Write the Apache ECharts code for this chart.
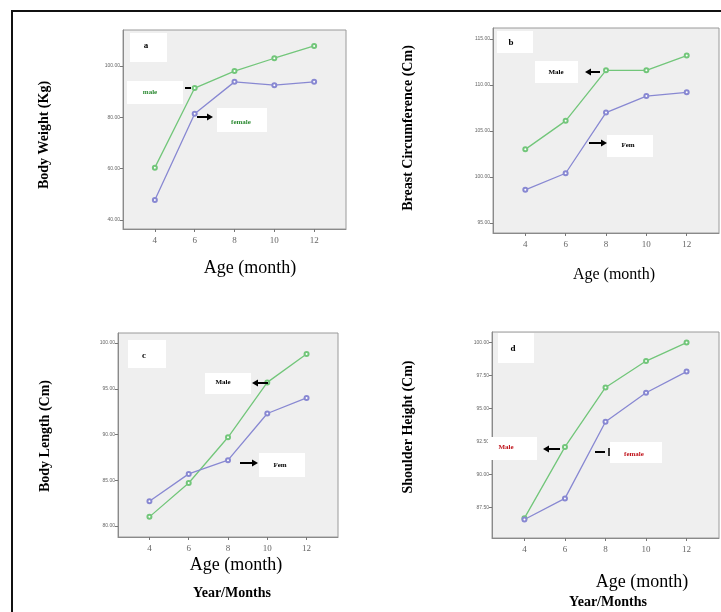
<!DOCTYPE html>
<html>
<head>
<meta charset="utf-8">
<script src="https://cdn.jsdelivr.net/npm/echarts@6/dist/echarts.min.js"></script>
<style>
html,body{margin:0;padding:0;background:#fff;}
#chart{width:721px;height:612px;}
</style>
</head>
<body>
<div id="chart"></div>
<script>
// ---- data ----
const ages = [4, 6, 8, 10, 12];
const ageTicks = [4, 6, 8, 10, 12];

const weightMale = [60.4, 91.4, 98.0, 103.0, 107.8];
const weightFemale = [47.8, 81.4, 93.8, 92.5, 93.8];
const weightTicks = [40, 60, 80, 100];

const breastMale = [103.0, 106.1, 111.6, 111.6, 113.2];
const breastFemale = [98.6, 100.4, 107.0, 108.8, 109.2];
const breastTicks = [95, 100, 105, 110, 115];

const lengthMale = [81.0, 84.7, 89.7, 95.7, 98.8];
const lengthFemale = [82.7, 85.7, 87.2, 92.3, 94.0];
const lengthTicks = [80, 85, 90, 95, 100];

const shoulderMale = [86.7, 92.1, 96.6, 98.6, 100.0];
const shoulderFemale = [86.6, 88.2, 94.0, 96.2, 97.8];
const shoulderTicks = [87.5, 90, 92.5, 95, 97.5, 100];

// ---- styles ----
const GREEN = '#72c67a';
const BLUE = '#8888d2';
const SERIF = '"Liberation Serif", "DejaVu Serif", serif';

const grids = [
  {left: 123, top: 30, width: 223, height: 199},
  {left: 493, top: 28, width: 226, height: 205},
  {left: 118, top: 333, width: 220, height: 204},
  {left: 492, top: 332, width: 227, height: 206}
];
const yRanges = [[36.5, 114], [93.9, 116.2], [78.8, 101.1], [85.2, 100.8]];
const yTickSets = [weightTicks, breastTicks, lengthTicks, shoulderTicks];
const maleSets = [weightMale, breastMale, lengthMale, shoulderMale];
const femaleSets = [weightFemale, breastFemale, lengthFemale, shoulderFemale];

function pairs(arr) { return ages.map((a, i) => [a, arr[i]]); }

const option = {
  animation: false,
  backgroundColor: '#ffffff',
  grid: grids.map(g => Object.assign({
    show: true, backgroundColor: '#efefef', borderColor: '#9a9a9a', borderWidth: 1
  }, g)),
  xAxis: grids.map((g, i) => ({
    type: 'value', gridIndex: i, min: 2.4, max: 13.6,
    splitLine: {show: false},
    axisLine: {show: true, lineStyle: {color: '#8a8a8a'}},
    axisTick: {show: true, length: 3, lineStyle: {color: '#777'}, customValues: ageTicks},
    axisLabel: {customValues: ageTicks, fontSize: 9, color: '#666', margin: 7, fontFamily: SERIF}
  })),
  yAxis: grids.map((g, i) => ({
    type: 'value', gridIndex: i, min: yRanges[i][0], max: yRanges[i][1],
    splitLine: {show: false},
    axisLine: {show: true, lineStyle: {color: '#8a8a8a'}},
    axisTick: {show: true, length: 3, lineStyle: {color: '#777'}, customValues: yTickSets[i]},
    axisLabel: {customValues: yTickSets[i], fontSize: 5, color: '#666', margin: 3,
      formatter: v => v.toFixed(2)}
  })),
  series: []
};

for (let i = 0; i < 4; i++) {
  option.series.push({
    type: 'line', xAxisIndex: i, yAxisIndex: i, data: pairs(maleSets[i]),
    symbol: 'emptyCircle', symbolSize: 4,
    lineStyle: {color: GREEN, width: 1.3}, itemStyle: {color: GREEN}
  });
  option.series.push({
    type: 'line', xAxisIndex: i, yAxisIndex: i, data: pairs(femaleSets[i]),
    symbol: 'emptyCircle', symbolSize: 4,
    lineStyle: {color: BLUE, width: 1.3}, itemStyle: {color: BLUE}
  });
}

// ---- annotations ----
const G = [];
function box(x1, y1, x2, y2) {
  G.push({type: 'rect', z: 100, shape: {x: x1, y: y1, width: x2 - x1, height: y2 - y1},
    style: {fill: '#ffffff'}});
}
function txt(x, y, s, size, color, weight, align) {
  G.push({type: 'text', z: 101, x: x, y: y,
    style: {text: s, font: (weight || 'normal') + ' ' + size + 'px ' + SERIF,
      fill: color || '#000', align: align || 'center', verticalAlign: 'middle'}});
}
function vtxt(x, y, s, size) {
  G.push({type: 'text', z: 101, x: x, y: y, rotation: Math.PI / 2,
    style: {text: s, font: 'bold ' + size + 'px ' + SERIF, fill: '#000',
      align: 'center', verticalAlign: 'middle'}});
}
function arrow(x1, x2, y, bar) {
  const dir = x2 > x1 ? 1 : -1;
  G.push({type: 'line', z: 101, shape: {x1: x1, y1: y, x2: x2 - dir * 4, y2: y},
    style: {stroke: '#000', lineWidth: 2}});
  if (bar) {
    G.push({type: 'line', z: 101, shape: {x1: x2, y1: y - 4, x2: x2, y2: y + 4},
      style: {stroke: '#000', lineWidth: 1.5}});
  } else {
    G.push({type: 'polygon', z: 101,
      shape: {points: [[x2, y], [x2 - dir * 6, y - 3.5], [x2 - dir * 6, y + 3.5]]},
      style: {fill: '#000'}});
  }
}

// outer frame
G.push({type: 'rect', z: 90, shape: {x: 12, y: 11, width: 740, height: 640},
  style: {fill: null, stroke: '#111', lineWidth: 2}});

// panel a
box(130, 33, 167, 62); txt(146, 46, 'a', 9, '#000', 'bold');
box(127, 81, 183, 104); txt(150, 92, 'male', 7, '#2e8b34', 'bold');
G.push({type: 'line', z: 101, shape: {x1: 185, y1: 88, x2: 191, y2: 88}, style: {stroke: '#000', lineWidth: 2}});
box(217, 108, 267, 132); txt(241, 122, 'female', 7, '#2e8b34', 'bold');
arrow(197, 213, 117);

// panel b
box(497, 31, 533, 53); txt(511, 43, 'b', 9, '#000', 'bold');
box(535, 61, 578, 83); txt(556, 72, 'Male', 7, '#000', 'bold');
arrow(600, 585, 72);
box(607, 135, 653, 157); txt(628, 145, 'Fem', 7, '#000', 'bold');
arrow(589, 607, 143);

// panel c
box(128, 340, 166, 368); txt(144, 356, 'c', 9, '#000', 'bold');
box(205, 373, 251, 394); txt(223, 382, 'Male', 7, '#000', 'bold');
arrow(268, 252, 383);
box(259, 453, 305, 477); txt(280, 465, 'Fem', 7, '#000', 'bold');
arrow(240, 258, 463);

// panel d
box(498, 333, 534, 363); txt(513, 349, 'd', 9, '#000', 'bold');
box(488, 437, 537, 460); txt(506, 447, 'Male', 7, '#c0141c', 'bold');
arrow(560, 543, 449);
box(610, 442, 662, 463); txt(634, 454, 'female', 7, '#c0141c', 'bold');
arrow(595, 609, 452, true);

// axis titles
vtxt(44, 135, 'Body Weight (Kg)', 14);
vtxt(408, 128, 'Breast Circumference (Cm)', 14);
vtxt(45, 436, 'Body Length (Cm)', 14);
vtxt(408, 427, 'Shoulder Height (Cm)', 14);

txt(250, 268, 'Age (month)', 18, '#000');
txt(614, 275, 'Age (month)', 16, '#000');
txt(236, 565, 'Age (month)', 18, '#000');
txt(642, 582, 'Age (month)', 18, '#000');
txt(232, 593, 'Year/Months', 14, '#000', 'bold');
txt(608, 602, 'Year/Months', 14, '#000', 'bold');

option.graphic = {elements: G};

const chart = echarts.init(document.getElementById('chart'), null, {renderer: 'canvas'});
chart.setOption(option);
</script>
</body>
</html>
